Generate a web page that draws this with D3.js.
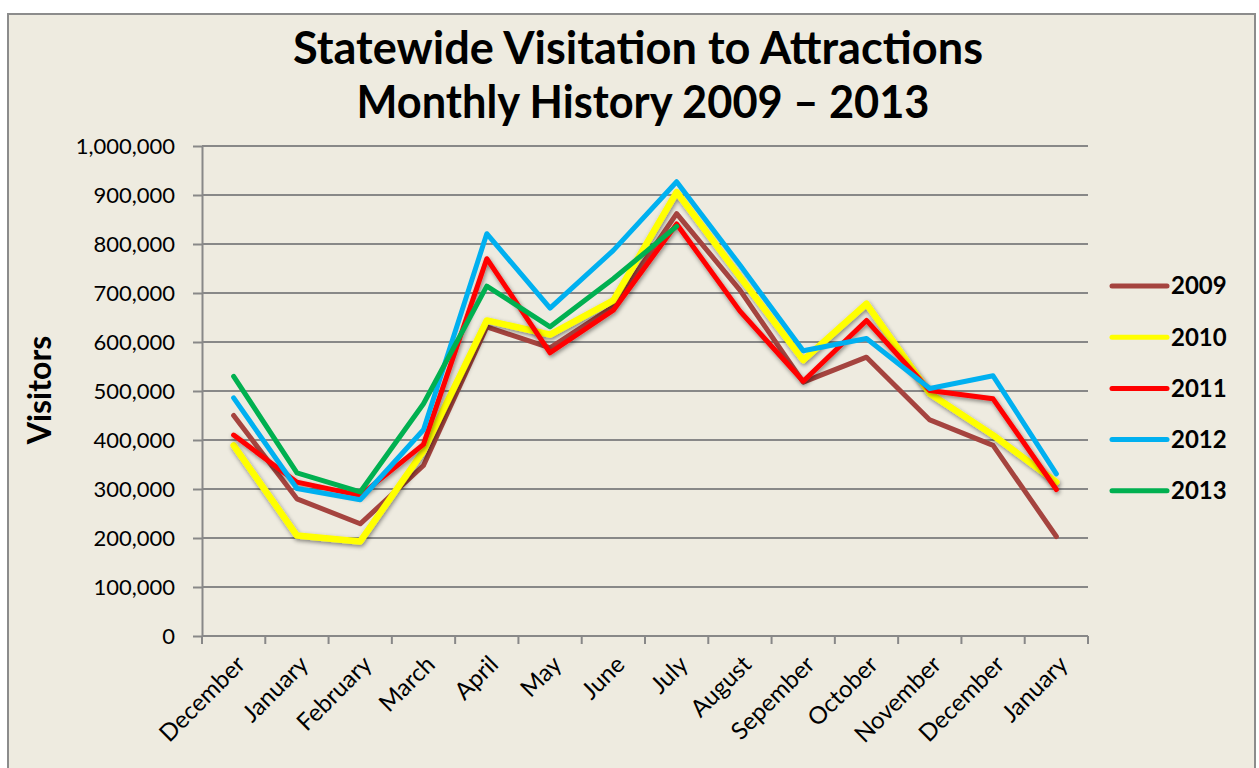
<!DOCTYPE html>
<html>
<head>
<meta charset="utf-8">
<script src="https://cdn.jsdelivr.net/npm/d3@7"></script>
<style>
  body { margin: 0; background: #fff; }
  svg { display: block; font-family: Lato, "Open Sans", sans-serif; }
</style>
</head>
<body>
<div id="chart"></div>
<script>
// data
const months = ["December", "January", "February", "March", "April", "May", "June",
  "July", "August", "Sepember", "October", "November", "December", "January"];
const years = ["2009", "2010", "2011", "2012", "2013"];
const v2009 = [450000, 280000, 229000, 348000, 631000, 588000, 672000, 862000, 706000, 518000, 569000, 441000, 389000, 203000];
const v2010 = [389000, 205000, 193000, 378000, 644000, 615000, 685000, 906000, 733000, 563000, 678000, 495000, 410000, 314000];
const v2011 = [410000, 314000, 287000, 391000, 770000, 578000, 665000, 841000, 663000, 520000, 644000, 501000, 484000, 299000];
const v2012 = [486000, 301000, 278000, 421000, 821000, 669000, 787000, 927000, 757000, 582000, 607000, 505000, 531000, 331000];
const v2013 = [530000, 333000, 294000, 474000, 714000, 631000, 729000, 836000];
const yTicks = [0, 100000, 200000, 300000, 400000, 500000, 600000, 700000, 800000, 900000, 1000000];
const colors = ["#A5443F", "#FFFF00", "#FF0000", "#00B0F0", "#00B050"];

const seriesValues = [v2009, v2010, v2011, v2012, v2013];
const series = years.map((y, i) => ({ name: y, values: seriesValues[i], color: colors[i] }));

const width = 1259, height = 768;
// plot area in page coordinates
const plot = { left: 202, right: 1088, top: 146, bottom: 636 };

const svg = d3.select("#chart").append("svg")
  .attr("width", width)
  .attr("height", height);

const defs = svg.append("defs");
const shadow = defs.append("filter").attr("id", "shadow")
  .attr("x", "-5%").attr("y", "-5%").attr("width", "110%").attr("height", "110%");
shadow.append("feDropShadow")
  .attr("dx", 1).attr("dy", 2).attr("stdDeviation", 2)
  .attr("flood-color", "#000").attr("flood-opacity", 0.45);

// chart area background + frame
svg.append("rect")
  .attr("x", 8).attr("y", 14)
  .attr("width", 1247).attr("height", height)
  .attr("fill", "#EEEBE0")
  .attr("stroke", "#8C8C8C")
  .attr("stroke-width", 2);

// title
const title = svg.append("g")
  .attr("font-weight", "bold")
  .attr("font-size", 45)
  .attr("text-anchor", "middle")
  .attr("fill", "#000");
title.append("text").attr("x", 638).attr("y", 64)
  .attr("textLength", 690).attr("lengthAdjust", "spacingAndGlyphs")
  .text("Statewide Visitation to Attractions");
title.append("text").attr("x", 643).attr("y", 118)
  .attr("textLength", 573).attr("lengthAdjust", "spacingAndGlyphs")
  .text("Monthly History 2009 \u2013 2013");

const xScale = d3.scaleBand()
  .domain(months.map((_, i) => i))
  .range([plot.left, plot.right])
  .padding(0);

const yScale = d3.scaleLinear()
  .domain([0, 1000000])
  .range([plot.bottom, plot.top]);

const gridColor = "#888888";

// horizontal gridlines
svg.append("g")
  .selectAll("line")
  .data(yTicks.filter(d => d > 0))
  .join("line")
  .attr("x1", plot.left).attr("x2", plot.right)
  .attr("y1", d => yScale(d)).attr("y2", d => yScale(d))
  .attr("stroke", gridColor)
  .attr("stroke-width", 2);

// y axis
const yAxis = svg.append("g")
  .attr("transform", `translate(${plot.left}, 0)`)
  .call(d3.axisLeft(yScale)
    .tickValues(yTicks)
    .tickFormat(d3.format(","))
    .tickSize(9)
    .tickSizeOuter(0)
    .tickPadding(18));
yAxis.select(".domain").attr("stroke", gridColor).attr("stroke-width", 2);
yAxis.selectAll(".tick line").attr("stroke", gridColor).attr("stroke-width", 2);
yAxis.selectAll(".tick text")
  .attr("font-family", "Lato, sans-serif")
  .attr("font-size", 22)
  .attr("fill", "#000");

// x axis: line plus ticks on category boundaries
svg.append("line")
  .attr("x1", plot.left).attr("x2", plot.right)
  .attr("y1", plot.bottom).attr("y2", plot.bottom)
  .attr("stroke", gridColor).attr("stroke-width", 2);
const bounds = d3.range(months.length + 1).map(i => plot.left + i * xScale.step());
svg.selectAll(".xtick")
  .data(bounds)
  .join("line")
  .attr("class", "xtick")
  .attr("x1", d => d).attr("x2", d => d)
  .attr("y1", plot.bottom).attr("y2", plot.bottom + 8)
  .attr("stroke", gridColor).attr("stroke-width", 2);
svg.selectAll(".xlabel")
  .data(months)
  .join("text")
  .attr("class", "xlabel")
  .attr("font-size", 24)
  .attr("text-anchor", "end")
  .attr("transform", (d, i) =>
    `translate(${xScale(i) + xScale.bandwidth() / 2 + 7}, ${plot.bottom + 24}) rotate(-45)`)
  .attr("dy", "0.35em")
  .text(d => d);

// y axis title
svg.append("text")
  .attr("transform", "translate(51, 390) rotate(-90)")
  .attr("text-anchor", "middle")
  .attr("font-weight", "bold")
  .attr("font-size", 32)
  .text("Visitors");

// lines
const line = d3.line()
  .x((d, i) => xScale(i) + xScale.bandwidth() / 2)
  .y(d => yScale(d));

svg.selectAll(".series")
  .data(series)
  .join("path")
  .attr("class", "series")
  .attr("d", d => line(d.values))
  .attr("fill", "none")
  .attr("stroke", d => d.color)
  .attr("stroke-width", d => d.name === "2010" ? 6.5 : 5)
  .attr("stroke-linejoin", "round")
  .attr("stroke-linecap", "round")
  .attr("filter", d => (d.name === "2010" || d.name === "2011") ? "url(#shadow)" : null);

// legend
const legend = svg.append("g").attr("transform", "translate(1112, 286)");
const item = legend.selectAll("g")
  .data(series)
  .join("g")
  .attr("transform", (d, i) => `translate(0, ${i * 51.2})`);
item.append("line")
  .attr("x1", 0).attr("x2", 55)
  .attr("stroke", d => d.color)
  .attr("stroke-width", 5)
  .attr("stroke-linecap", "round");
item.append("text")
  .attr("x", 59)
  .attr("dy", "0.35em")
  .attr("font-weight", "bold")
  .attr("font-size", 24)
  .text(d => d.name);
</script>
</body>
</html>
